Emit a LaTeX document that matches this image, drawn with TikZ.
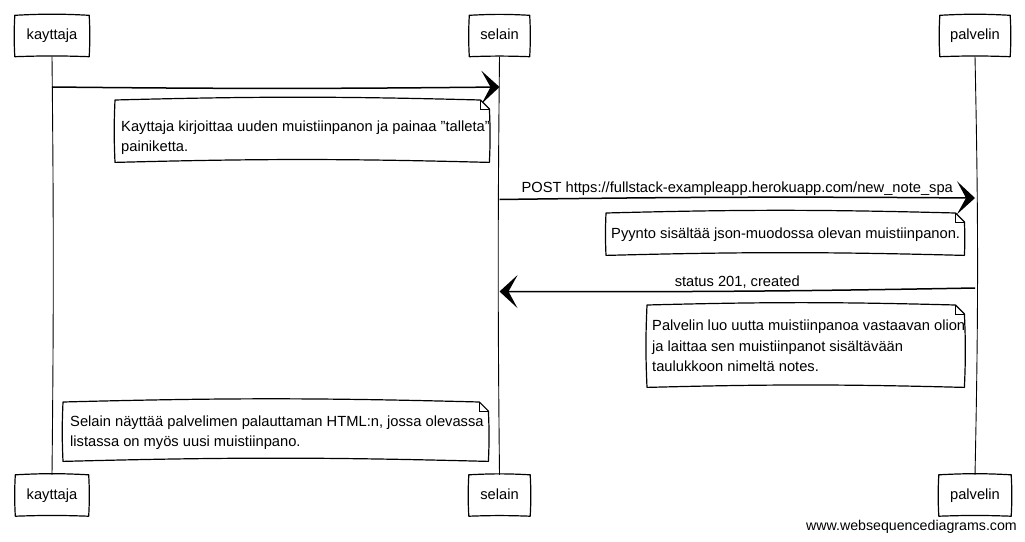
\documentclass[tikz,border=0pt]{standalone}
\usepackage{fontspec}
\setmainfont{Liberation Sans}
\usetikzlibrary{arrows.meta,calc}
\newcommand\skbox[1]{\draw[skline] (#1.north west) to[bend left=3] (#1.north east) to[bend left=3] (#1.south east) to[bend right=2] (#1.south west) to[bend left=3] (#1.north west) -- cycle;}
\newcommand\sknote[1]{%
  \draw[skline,fill=white] (#1.north west) to[bend left=1.5] ($(#1.north east)+(-9,0)$) -- ($(#1.north east)+(0,9)$) to[bend left=2.5] (#1.south east) to[bend right=1.5] (#1.south west) to[bend left=2.5] (#1.north west) -- cycle;
  \draw[line width=0.6pt] ($(#1.north east)+(-9,0)$) -- ($(#1.north east)+(-9,9)$) -- ($(#1.north east)+(0,9)$);}
\tikzset{
  skline/.style={line width=1.2pt, line join=round, line cap=round},
  actor/.style={fill=white, minimum height=41pt, inner sep=0pt, text height=10.5pt, text depth=3.1pt,
    font=\fontsize{14.7}{20}\selectfont},
  lifeline/.style={line width=0.9pt},
  msg/.style={line width=1.5pt, -{Stealth[length=18pt,width=33pt,inset=9pt]}},
  lbl/.style={midway, anchor=base, yshift=5pt, inner sep=0pt, font=\fontsize{14.7}{20}\selectfont},
  notebox/.style={anchor=north west, inner sep=0pt},
  notetext/.style={anchor=north west, inner sep=0pt, align=left, font=\fontsize{14.7}{20}\selectfont},
}
\begin{document}
\begin{tikzpicture}[x=1pt,y=-1pt]
\useasboundingbox (0,0) rectangle (1025,541);
% participants
\node[actor, minimum width=74pt] (kT) at (52,36) {kayttaja};
\node[actor, minimum width=60pt] (sT) at (499.5,36) {selain};
\node[actor, minimum width=70pt] (pT) at (975,36) {palvelin};
\node[actor, minimum width=73pt] (kB) at (52,495.5) {kayttaja};
\node[actor, minimum width=61pt] (sB) at (499.5,495.5) {selain};
\node[actor, minimum width=72pt] (pB) at (975,495.5) {palvelin};
% lifelines
\draw[lifeline] (kT.south) to[bend left=0.6] (kB.north);
\draw[lifeline] (sT.south) to[bend right=0.6] (sB.north);
\draw[lifeline] (pT.south) to[bend left=1.2] (pB.north);
\skbox{kT}\skbox{sT}\skbox{pT}\skbox{kB}\skbox{sB}\skbox{pB}
% message rows
\coordinate (r1) at (0,87);
\coordinate (r2a) at (0,199.5);
\coordinate (r2b) at (0,198);
\coordinate (r3a) at (0,288);
\coordinate (r3b) at (0,291.5);
\coordinate (a1k) at (kT.south |- r1);
\coordinate (a1s) at (sT.south |- r1);
\coordinate (a2s) at (sT.south |- r2a);
\coordinate (a2p) at (pT.south |- r2b);
\coordinate (a3p) at (pT.south |- r3a);
\coordinate (a3s) at (sT.south |- r3b);
\draw[msg] (a1k) to[bend right=0.6] (a1s);
\draw[msg] (a2s) to[bend left=0.6] node[lbl] {POST https://fullstack-exampleapp.herokuapp.com/new\_note\_spa} (a2p);
\draw[msg] (a3p) to[bend left=0.6] node[lbl] {status 201, created} (a3s);
% notes
\node[notebox, minimum width=374pt, minimum height=62pt] (n1) at (115,100) {};
\sknote{n1}
\node[notetext] (t1) at (121,120.5) {Kayttaja kirjoittaa uuden muistiinpanon ja painaa {\char34}talleta{\char34}\\painiketta.};
\node[notebox, minimum width=358pt, minimum height=42pt] (n2) at (606,213) {};
\sknote{n2}
\node[notetext] (t2) at (611,227.5) {Pyynto sisältää json-muodossa olevan muistiinpanon.};
\node[notebox, minimum width=317pt, minimum height=82pt] (n3) at (647,305) {};
\sknote{n3}
\node[notetext, font=\fontsize{14.7}{20.8}\selectfont] (t3) at (652,319.5) {Palvelin luo uutta muistiinpanoa vastaavan olion\\ja laittaa sen muistiinpanot sisältävään\\taulukkoon nimeltä notes.};
\node[notebox, minimum width=425pt, minimum height=59pt] (n4) at (63,402) {};
\sknote{n4}
\node[notetext, font=\fontsize{14.7}{19.5}\selectfont] (t4) at (70,416) {Selain näyttää palvelimen palauttaman HTML:n, jossa olevassa\\listassa on myös uusi muistiinpano.};
% watermark
\node[anchor=base east, inner sep=0pt, font=\fontsize{14.2}{16}\selectfont] (wm) at (1017,530) {www.websequencediagrams.com};
\end{tikzpicture}
\end{document}
